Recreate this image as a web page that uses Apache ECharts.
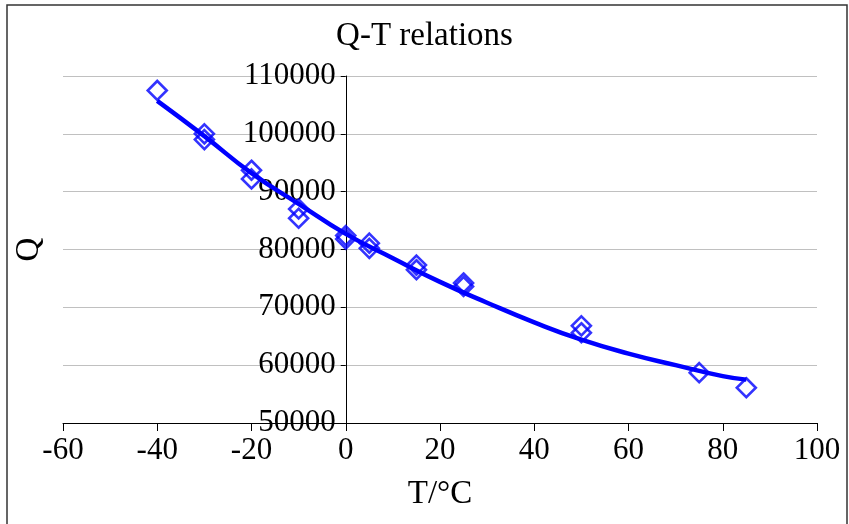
<!DOCTYPE html>
<html>
<head>
<meta charset="utf-8">
<script src="https://cdn.jsdelivr.net/npm/echarts@6/dist/echarts.min.js"></script>
<style>
  html, body { margin: 0; padding: 0; background: #fff; }
  #chart { width: 849px; height: 524px; }
</style>
</head>
<body>
<div id="chart"></div>
<script>
// measured points (T, Q)
const measured = [
    [-40, 107500],
    [-30, 100000], [-30, 99000],
    [-20, 93700], [-20, 92200],
    [-10, 87000], [-10, 85400],
    [0, 82400], [0, 81800],
    [5, 81100], [5, 80200],
    [15, 77300], [15, 76500],
    [25, 74200], [25, 73600],
    [50, 66800], [50, 65600],
    [75, 58700],
    [85, 56100]
];

// trend line
const trendT = [-40, -30, -20, -10, 0, 10, 20, 30, 40, 50, 60, 70, 80, 85];
const trendQ = [105700, 99600, 93200, 87900, 82700, 78500, 74400, 70800, 67400, 64400, 62000, 60000, 58100, 57500];

const xTicks = [-60, -40, -20, 0, 20, 40, 60, 80, 100];
const yTicks = [50000, 60000, 70000, 80000, 90000, 100000, 110000];

const chart = echarts.init(document.getElementById('chart'));
const serif = 'Liberation Serif';

// grid geometry, the y axis sits on T = 0
const gridLeft = 63, gridRight = 32;
const plotW = 849 - gridLeft - gridRight;
const zeroX = plotW * (0 - xTicks[0]) / (xTicks[xTicks.length - 1] - xTicks[0]);

chart.setOption({
    backgroundColor: '#fff',
    animation: false,
    title: {
        text: 'Q-T relations',
        left: 'center',
        top: 15,
        textStyle: { fontFamily: serif, fontSize: 33, fontWeight: 'normal', color: '#000' }
    },
    graphic: [{
        type: 'rect',
        shape: { x: 7, y: 5, width: 840, height: 530 },
        style: { fill: 'none', stroke: '#333', lineWidth: 1.5 },
        silent: true
    }],
    grid: { left: gridLeft, right: gridRight, top: 76, bottom: 101, outerBoundsMode: 'none' },
    xAxis: {
        type: 'value',
        min: xTicks[0],
        max: xTicks[xTicks.length - 1],
        interval: 20,
        name: 'T/°C',
        nameLocation: 'middle',
        nameGap: 55,
        nameTextStyle: { fontFamily: serif, fontSize: 33, color: '#000' },
        axisLine: { onZero: false, lineStyle: { color: '#000', width: 1 } },
        axisTick: { show: true, length: 8, lineStyle: { color: '#000' } },
        axisLabel: { fontFamily: serif, fontSize: 31, color: '#000', margin: 12 },
        splitLine: { show: false }
    },
    yAxis: {
        type: 'value',
        min: yTicks[0],
        max: yTicks[yTicks.length - 1],
        interval: 10000,
        offset: -zeroX,
        name: 'Q',
        nameLocation: 'middle',
        nameGap: 300,
        nameMoveOverlap: false,
        nameTextStyle: { fontFamily: serif, fontSize: 33, color: '#000' },
        axisLine: { show: true, onZero: false, lineStyle: { color: '#000', width: 1 } },
        axisTick: { show: true, length: 5, lineStyle: { color: '#000' } },
        axisLabel: {
            fontFamily: serif, fontSize: 31, color: '#000', margin: 10,
            formatter: v => String(v)
        },
        splitLine: { show: true, lineStyle: { color: '#c0c0c0', width: 1 } }
    },
    series: [
        {
            type: 'scatter',
            data: measured,
            symbol: 'diamond',
            symbolSize: 19,
            itemStyle: { color: 'rgba(0,0,0,0)', borderColor: '#0000ff', borderWidth: 2.6 },
            z: 3
        },
        {
            type: 'line',
            data: trendT.map((t, i) => [t, trendQ[i]]),
            smooth: true,
            showSymbol: false,
            lineStyle: { color: '#0000ff', width: 4.5 },
            z: 4
        }
    ]
});
</script>
</body>
</html>
